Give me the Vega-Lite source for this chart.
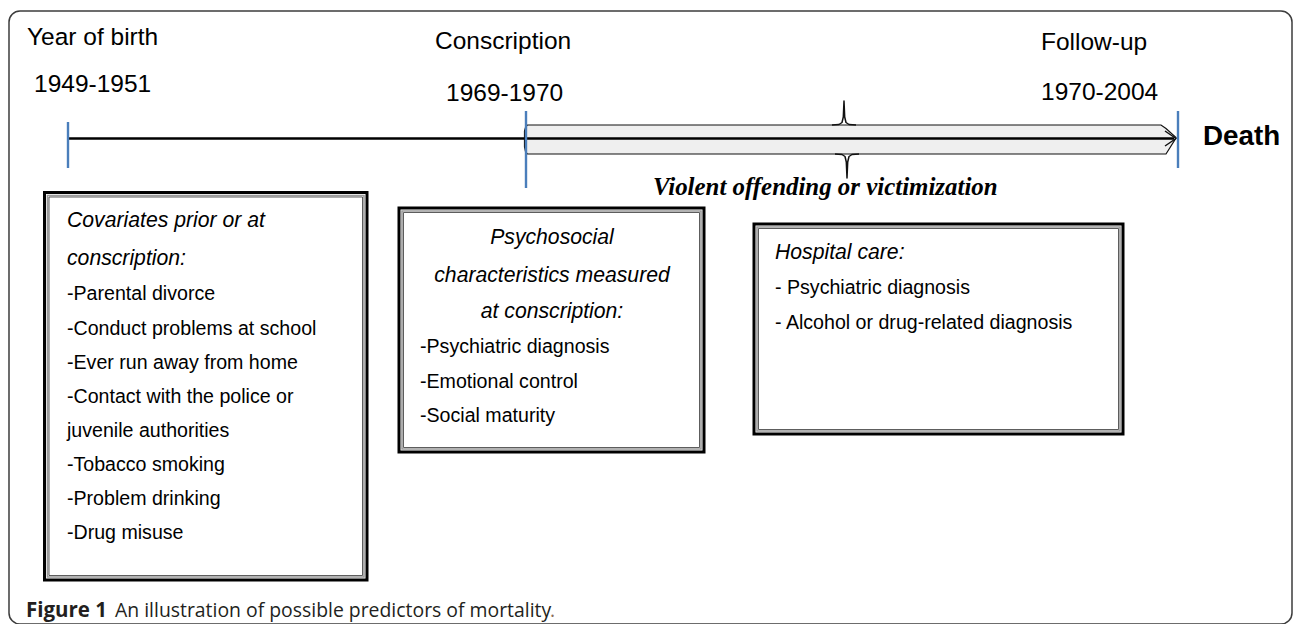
{
  "$schema": "https://vega.github.io/schema/vega-lite/v6.json",
  "width": 1293,
  "height": 624,
  "padding": 0,
  "autosize": "none",
  "background": "white",
  "config": {"view": {"stroke": null}},
  "encoding": {
    "x": {"field": "x", "type": "quantitative", "scale": {"domain": [0, 1293], "nice": false, "zero": false}, "axis": null},
    "y": {"field": "y", "type": "quantitative", "scale": {"domain": [0, 624], "nice": false, "zero": false, "reverse": true}, "axis": null}
  },
  "layer": [
    {
      "data": {"values": [{"x": 9, "x2": 1292, "y": 11, "y2": 624}]},
      "mark": {"type": "rect", "filled": false, "stroke": "#3c3c3c", "strokeWidth": 1.5, "cornerRadius": 11},
      "encoding": {"x2": {"field": "x2"}, "y2": {"field": "y2"}}
    },
    {
      "data": {"values": [
        {"x": 524.5, "y": 131, "y2": 147},
        {"x": 525.5, "y": 127.5, "y2": 151.5},
        {"x": 527.5, "y": 125, "y2": 154},
        {"x": 1161, "y": 125, "y2": 154},
        {"x": 1166, "y": 128.5, "y2": 154},
        {"x": 1176, "y": 137.5, "y2": 138}
      ]},
      "mark": {"type": "area", "fill": "#efefef", "stroke": "#111111", "strokeWidth": 1.2},
      "encoding": {
        "y": {"field": "y", "type": "quantitative", "stack": null},
        "y2": {"field": "y2"}
      }
    },
    {
      "data": {"values": [{"x": 68, "x2": 1174, "y": 138.5}]},
      "mark": {"type": "rule", "color": "#000000", "strokeWidth": 2.4},
      "encoding": {"x2": {"field": "x2"}}
    },
    {
      "data": {"values": [
        {"id": "arrow", "o": 1, "x": 1165, "y": 131},
        {"id": "arrow", "o": 2, "x": 1176, "y": 138.5},
        {"id": "arrow", "o": 3, "x": 1165, "y": 146},
        {"id": "top", "o": 1, "x": 832, "y": 125},
        {"id": "top", "o": 2, "x": 839, "y": 124.5},
        {"id": "top", "o": 3, "x": 842, "y": 122.5},
        {"id": "top", "o": 4, "x": 843.3, "y": 117},
        {"id": "top", "o": 5, "x": 844, "y": 101},
        {"id": "top", "o": 6, "x": 844.7, "y": 117},
        {"id": "top", "o": 7, "x": 846, "y": 122.5},
        {"id": "top", "o": 8, "x": 849, "y": 124.5},
        {"id": "top", "o": 9, "x": 856, "y": 125},
        {"id": "bottom", "o": 1, "x": 835, "y": 154},
        {"id": "bottom", "o": 2, "x": 842, "y": 154.5},
        {"id": "bottom", "o": 3, "x": 845, "y": 156.5},
        {"id": "bottom", "o": 4, "x": 846.3, "y": 162},
        {"id": "bottom", "o": 5, "x": 847, "y": 178},
        {"id": "bottom", "o": 6, "x": 847.7, "y": 162},
        {"id": "bottom", "o": 7, "x": 849, "y": 156.5},
        {"id": "bottom", "o": 8, "x": 852, "y": 154.5},
        {"id": "bottom", "o": 9, "x": 859, "y": 154}
      ]},
      "mark": {"type": "line", "color": "#111111", "strokeWidth": 1.5, "strokeJoin": "round"},
      "encoding": {"detail": {"field": "id"}, "order": {"field": "o", "type": "quantitative"}}
    },
    {
      "data": {"values": [
        {"x": 68, "y": 122, "y2": 168},
        {"x": 526, "y": 111, "y2": 188},
        {"x": 1178, "y": 111, "y2": 168}
      ]},
      "mark": {"type": "rule", "color": "#4a7ebb", "strokeWidth": 2.4},
      "encoding": {"y2": {"field": "y2"}}
    },
    {
      "data": {"values": [
        {"x": 44.5, "x2": 367, "y": 192.5, "y2": 580},
        {"x": 399, "x2": 704, "y": 208, "y2": 452},
        {"x": 754, "x2": 1123, "y": 224, "y2": 434}
      ]},
      "mark": {"type": "rect", "fill": "white", "stroke": "#000000", "strokeWidth": 3},
      "encoding": {"x2": {"field": "x2"}, "y2": {"field": "y2"}}
    },
    {
      "data": {"values": [
        {"x": 47.5, "x2": 364, "y": 195.5, "y2": 577},
        {"x": 402, "x2": 701, "y": 211, "y2": 449},
        {"x": 757, "x2": 1120, "y": 227, "y2": 431}
      ]},
      "mark": {"type": "rect", "filled": false, "stroke": "#9a9a9a", "strokeWidth": 1.6},
      "encoding": {"x2": {"field": "x2"}, "y2": {"field": "y2"}}
    },
    {
      "data": {"values": [
        {"x": 49, "x2": 362.5, "y": 197, "y2": 575.5},
        {"x": 403.5, "x2": 699.5, "y": 212.5, "y2": 447.5},
        {"x": 758.5, "x2": 1118.5, "y": 228.5, "y2": 429.5}
      ]},
      "mark": {"type": "rect", "filled": false, "stroke": "#333333", "strokeWidth": 0.8},
      "encoding": {"x2": {"field": "x2"}, "y2": {"field": "y2"}}
    },
    {
      "data": {"values": [
        {"x": 27, "y": 45, "t": "Year of birth"},
        {"x": 34, "y": 92, "t": "1949-1951"},
        {"x": 435, "y": 49, "t": "Conscription"},
        {"x": 446, "y": 101, "t": "1969-1970"},
        {"x": 1041, "y": 50, "t": "Follow-up"},
        {"x": 1041, "y": 100, "t": "1970-2004"}
      ]},
      "mark": {"type": "text", "align": "left", "baseline": "alphabetic", "font": "Liberation Sans", "fontSize": 24.5, "color": "#000000"},
      "encoding": {"text": {"field": "t", "type": "nominal"}}
    },
    {
      "data": {"values": [{"x": 1203, "y": 145, "t": "Death"}]},
      "mark": {"type": "text", "align": "left", "baseline": "alphabetic", "font": "Liberation Sans", "fontSize": 27.8, "fontWeight": "bold", "color": "#000000"},
      "encoding": {"text": {"field": "t", "type": "nominal"}}
    },
    {
      "data": {"values": [{"x": 653, "y": 195, "t": "Violent offending or victimization"}]},
      "mark": {"type": "text", "align": "left", "baseline": "alphabetic", "font": "Liberation Serif", "fontSize": 24.9, "fontWeight": "bold", "fontStyle": "italic", "color": "#000000"},
      "encoding": {"text": {"field": "t", "type": "nominal"}}
    },
    {
      "data": {"values": [
        {"x": 67, "y": 227, "t": "Covariates prior or at"},
        {"x": 67, "y": 265, "t": "conscription:"},
        {"x": 775, "y": 259, "t": "Hospital care:"}
      ]},
      "mark": {"type": "text", "align": "left", "baseline": "alphabetic", "font": "Liberation Sans", "fontSize": 21.2, "fontStyle": "italic", "color": "#000000"},
      "encoding": {"text": {"field": "t", "type": "nominal"}}
    },
    {
      "data": {"values": [
        {"x": 552, "y": 244, "t": "Psychosocial"},
        {"x": 552, "y": 282, "t": "characteristics measured"},
        {"x": 552, "y": 318, "t": "at conscription:"}
      ]},
      "mark": {"type": "text", "align": "center", "baseline": "alphabetic", "font": "Liberation Sans", "fontSize": 21.2, "fontStyle": "italic", "color": "#000000"},
      "encoding": {"text": {"field": "t", "type": "nominal"}}
    },
    {
      "data": {"values": [
        {"x": 67, "y": 300, "t": "-Parental divorce"},
        {"x": 67, "y": 335, "t": "-Conduct problems at school"},
        {"x": 67, "y": 369, "t": "-Ever run away from home"},
        {"x": 67, "y": 403, "t": "-Contact with the police or"},
        {"x": 67, "y": 437, "t": "juvenile authorities"},
        {"x": 67, "y": 471, "t": "-Tobacco smoking"},
        {"x": 67, "y": 505, "t": "-Problem drinking"},
        {"x": 67, "y": 539, "t": "-Drug misuse"},
        {"x": 420, "y": 353, "t": "-Psychiatric diagnosis"},
        {"x": 420, "y": 388, "t": "-Emotional control"},
        {"x": 420, "y": 422, "t": "-Social maturity"},
        {"x": 775, "y": 294, "t": "- Psychiatric diagnosis"},
        {"x": 775, "y": 329, "t": "- Alcohol or drug-related diagnosis"}
      ]},
      "mark": {"type": "text", "align": "left", "baseline": "alphabetic", "font": "Liberation Sans", "fontSize": 19.6, "color": "#000000"},
      "encoding": {"text": {"field": "t", "type": "nominal"}}
    },
    {
      "data": {"values": [{"x": 26, "y": 617, "t": "Figure 1"}]},
      "mark": {"type": "text", "align": "left", "baseline": "alphabetic", "font": "Open Sans", "fontSize": 20.5, "fontWeight": "bold", "color": "#231f20"},
      "encoding": {"text": {"field": "t", "type": "nominal"}}
    },
    {
      "data": {"values": [{"x": 115, "y": 617, "t": "An illustration of possible predictors of mortality"}]},
      "mark": {"type": "text", "align": "left", "baseline": "alphabetic", "font": "Open Sans", "fontSize": 19.4, "color": "#231f20"},
      "encoding": {"text": {"field": "t", "type": "nominal"}}
    },
    {
      "data": {"values": [{"x": 550, "y": 617, "t": "."}]},
      "mark": {"type": "text", "align": "left", "baseline": "alphabetic", "font": "Open Sans", "fontSize": 19.4, "color": "#8a6d5a"},
      "encoding": {"text": {"field": "t", "type": "nominal"}}
    }
  ]
}
